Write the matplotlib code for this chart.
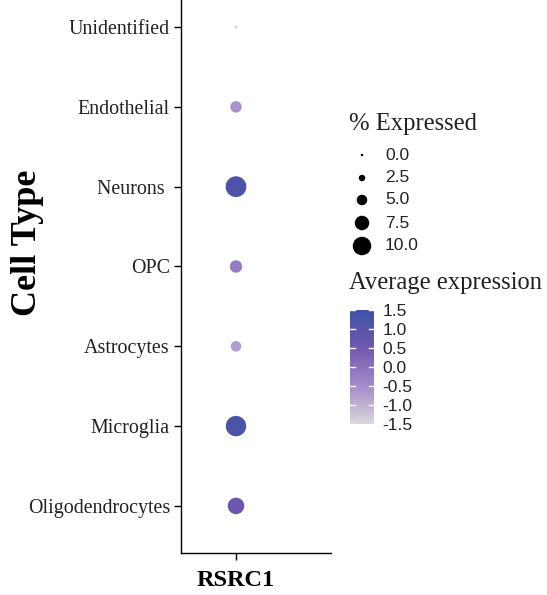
import numpy as np
import matplotlib.pyplot as plt
from matplotlib.colors import LinearSegmentedColormap, Normalize
from matplotlib.cm import ScalarMappable

cell_types = ["Oligodendrocytes", "Microglia", "Astrocytes", "OPC",
              "Neurons ", "Endothelial", "Unidentified"]
pct_expressed = [8.8, 11.2, 5.0, 6.2, 11.4, 5.6, 0.6]
avg_expression = [0.6, 1.2, -0.7, -0.2, 1.2, -0.6, -1.5]
gene = "RSRC1"
legend_pcts = [0.0, 2.5, 5.0, 7.5, 10.0]
cbar_ticks = [1.5, 1.0, 0.5, 0.0, -0.5, -1.0, -1.5]

W, H = 547, 595
cmap = LinearSegmentedColormap.from_list(
    "dot", ["#D9D9D9", "#A48BCB", "#7258AE", "#3D52A5"])
norm = Normalize(-1.5, 1.5)
serif = "Liberation Serif"
sans = "Liberation Sans"


def size_of(pct):
    d_px = 2.5 + 1.6 * np.asarray(pct)
    return (d_px * 0.72) ** 2


fig = plt.figure(figsize=(W / 100, H / 100), dpi=100)
ax = fig.add_axes([181 / W, 42 / H, 150 / W, (553 + 20) / H])
y = np.arange(len(cell_types))
ax.scatter(np.zeros(len(y)), y, s=size_of(pct_expressed),
           c=avg_expression, cmap=cmap, norm=norm, linewidths=0)
ax.set_xlim(-0.55, 0.95)
ax.set_ylim(-0.59, 6.59)
ax.set_yticks(y)
ax.set_yticklabels(cell_types, fontfamily=serif, fontsize=14.4, color="#222222")
ax.set_xticks([0])
ax.set_xticklabels([gene], fontfamily=serif, fontsize=17.5, fontweight="bold")
ax.tick_params(axis="both", length=5, width=1, pad=3)
ax.tick_params(axis="x", pad=7)
for side in ["top", "right"]:
    ax.spines[side].set_visible(False)
for side in ["left", "bottom"]:
    ax.spines[side].set_linewidth(1)
fig.text(28 / W, 1 - 243 / H, "Cell Type", rotation=90, ha="center",
         va="center", fontfamily=serif, fontsize=26, fontweight="bold")

# size legend
fig.text(349 / W, 1 - 124 / H, "% Expressed", fontfamily=serif, fontsize=17.7,
         va="center", ha="left", color="#222222")
lax = fig.add_axes([340 / W, 1 - 258 / H, 100 / W, 115 / H])
lax.set_xlim(340, 440)
lax.set_ylim(258, 143)
lax.axis("off")
ly = [155, 178, 200, 223, 246]
lax.scatter([362] * len(ly), ly, s=size_of(legend_pcts), c="black",
            linewidths=0, clip_on=False)
for yy, p in zip(ly, legend_pcts):
    lax.text(385, yy, f"{p:.1f}", fontfamily=sans, fontsize=12.5, va="center",
             color="#222222")

# colour legend
fig.text(349 / W, 1 - 283 / H, "Average expression", fontfamily=serif,
         fontsize=17.7, va="center", ha="left", color="#222222")
cax = fig.add_axes([350 / W, 1 - 424 / H, 24 / W, 114 / H])
cb = fig.colorbar(ScalarMappable(norm=norm, cmap=cmap), cax=cax)
cb.outline.set_visible(False)
cb.set_ticks(cbar_ticks)
cb.set_ticklabels([f"{t:.1f}" for t in cbar_ticks])
cax.tick_params(length=0, pad=6, labelsize=12.5, labelcolor="#222222")
for lab in cax.get_yticklabels():
    lab.set_fontfamily(sans)
for t in cbar_ticks:
    cax.plot([0, 0.2], [t, t], color="white", lw=1, transform=cax.get_yaxis_transform())
    cax.plot([0.8, 1], [t, t], color="white", lw=1, transform=cax.get_yaxis_transform())

fig.savefig("out.png", dpi=100)
